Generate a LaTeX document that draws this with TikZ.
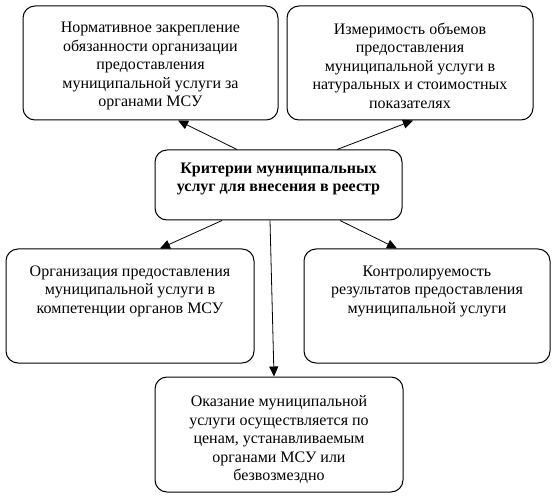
\documentclass[tikz,border=0pt]{standalone}
\usepackage{fontspec}
\setmainfont{Liberation Serif}
\usetikzlibrary{arrows.meta}

\begin{document}
\begin{tikzpicture}[x=1pt,y=-1pt,
  crit/.style={draw,line width=1pt,rounded corners=12pt,align=center,
    font=\fontsize{16}{18.5}\selectfont,minimum height=114pt},
  link/.style={line width=0.8pt,-{Triangle[length=10pt,width=9pt]}}]
\useasboundingbox (0,0) rectangle (555,500);

%---------------------------------------------------
\node[crit,minimum width=255pt,text height=91pt] (norm) at (150.5,63)
  {Нормативное закрепление\\ обязанности организации\\ предоставления\\
   муниципальной услуги за\\ органами МСУ};
\node[crit,minimum width=246pt,text height=91pt] (izm) at (410,63)
  {Измеримость объемов\\ предоставления\\ муниципальной услуги в\\
   натуральных и стоимостных\\ показателях};

%---------------------------------------------------
\node[crit,minimum width=247pt,minimum height=70pt,text depth=15pt,
  font=\fontsize{16}{18.5}\selectfont\bfseries] (krit) at (278.5,185)
  {Критерии муниципальных\\ услуг для внесения в реестр};

%---------------------------------------------------
\node[crit,minimum width=248pt,text depth=33pt] (org) at (130,306)
  {Организация предоставления\\ муниципальной услуги в\\ компетенции органов МСУ};
\node[crit,minimum width=246pt,text depth=33pt] (kontr) at (427,306)
  {Контролируемость\\ результатов предоставления\\ муниципальной услуги};
\node[crit,minimum width=248pt,minimum height=115pt,text height=96pt] (okaz) at (279,434.5)
  {Оказание муниципальной\\ услуги осуществляется по\\ ценам, устанавливаемым\\
   органами МСУ или\\ безвозмездно};

%--------------------------------------------------
\draw[link] ([xshift=-41.5pt]krit.north) -- ([xshift=27.5pt]norm.south);
\draw[link] ([xshift=58.5pt]krit.north) -- ([xshift=3pt]izm.south);
\draw[link] ([xshift=-56.5pt]krit.south) -- ([xshift=30pt]org.north);
\draw[link] ([xshift=61.5pt]krit.south) -- ([xshift=-30pt]kontr.north);
\draw[link] ([xshift=-8.5pt]krit.south) -- ([xshift=-5pt]okaz.north);

\end{tikzpicture}
\end{document}
